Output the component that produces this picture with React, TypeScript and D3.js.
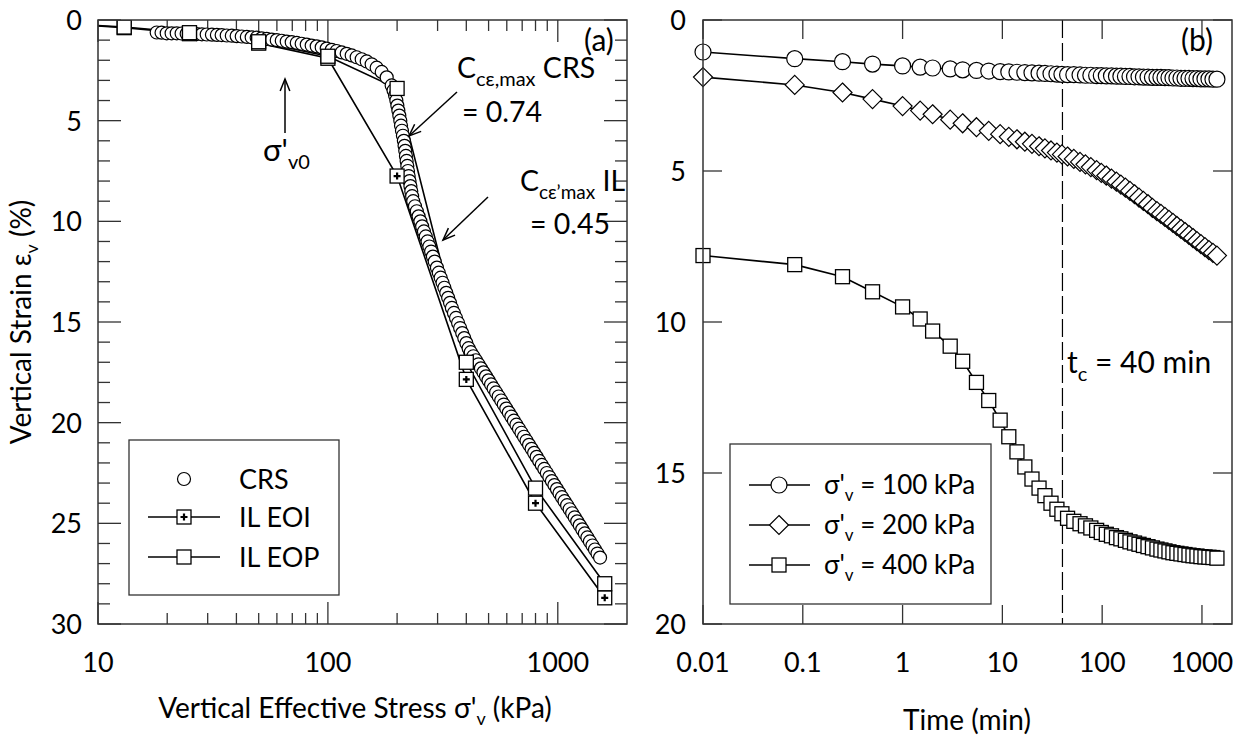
import React from 'react';
import * as d3 from 'd3';

// ---------- Panel (a) data ----------
const crsStress = [
  18, 18.9, 19.9, 20.9, 22.0, 23.1, 24.3, 25.6, 26.9, 28.3, 29.7, 31.3, 32.9, 34.5, 36.3, 38.2, 40.1, 42.2, 44.4, 46.6,
  49.0, 51.5, 54.2, 57.0, 59.9, 63.0, 66.2, 69.6, 73.2, 76.9, 80.9, 85.0, 89.4, 94.0, 98.8, 103.9, 109.2, 114.8, 120.7, 126.9,
  133.4, 140.3, 147.5, 155.0, 163.0, 171.4, 180.2, 189.4,
  193, 196, 198.5, 200.5, 202.5, 204.5, 206.5, 208, 210, 212, 214, 215.5, 217, 218.5, 220, 221.5, 223, 224.5, 226.5, 228.5, 230.5, 232.5, 235,
  239.2, 243.6, 248, 252.5, 257, 261.7, 266.5, 271.3, 276.2, 281.2, 286.3, 291.5, 298, 303.6, 309.4, 315.3, 321.2, 327.3, 333.5, 339.8,
  346.2, 353.4, 360.8, 368.4, 376, 383.9, 391.9, 400.4, 409.3,
  418.3, 429.1, 440.1, 451.4, 463.0, 475.0, 487.1, 499.6, 512.5, 525.6, 539.1, 553.1, 567.4, 582.0, 596.9, 612.3, 628.1, 644.3, 660.8, 677.8,
  695.0, 712.9, 731.1, 749.9, 769.3, 789.0, 809.3, 830.1, 851.6, 873.5, 895.9, 918.9, 942.6, 966.7, 991.5, 1017, 1043, 1070, 1098, 1126,
  1155, 1185, 1215, 1246, 1278, 1311, 1345, 1379, 1415, 1451, 1488, 1527,
];
const crsStrain = [
  0.62, 0.63, 0.66, 0.66, 0.66, 0.67, 0.68, 0.69, 0.70, 0.71, 0.72, 0.73, 0.74, 0.75, 0.77, 0.78, 0.80, 0.82, 0.84, 0.86,
  0.88, 0.91, 0.94, 0.97, 1.0, 1.03, 1.07, 1.10, 1.14, 1.18, 1.22, 1.27, 1.31, 1.36, 1.42, 1.48, 1.54, 1.61, 1.68, 1.76,
  1.85, 1.95, 2.06, 2.2, 2.37, 2.58, 2.85, 3.25,
  3.5, 3.75, 4.0, 4.25, 4.5, 4.75, 5.0, 5.25, 5.5, 5.75, 6.0, 6.25, 6.5, 6.75, 7.0, 7.25, 7.5, 7.75, 8.0, 8.25, 8.5, 8.75, 9.0,
  9.25, 9.5, 9.75, 10.0, 10.25, 10.5, 10.75, 11.0, 11.25, 11.5, 11.75, 12.0, 12.3, 12.55, 12.8, 13.05, 13.3, 13.55, 13.8, 14.05,
  14.3, 14.55, 14.8, 15.05, 15.3, 15.55, 15.8, 16.05, 16.3,
  16.5, 16.7, 16.9, 17.1, 17.3, 17.5, 17.7, 17.9, 18.1, 18.3, 18.5, 18.7, 18.9, 19.1, 19.3, 19.5, 19.7, 19.9, 20.1, 20.3,
  20.5, 20.7, 20.9, 21.1, 21.3, 21.5, 21.7, 21.9, 22.1, 22.3, 22.5, 22.7, 22.9, 23.1, 23.3, 23.5, 23.7, 23.9, 24.1, 24.3,
  24.5, 24.7, 24.9, 25.1, 25.3, 25.5, 25.7, 25.9, 26.1, 26.3, 26.5, 26.7,
];
const ilStress = [6.25, 13, 25, 50, 100, 200, 400, 800, 1600];
const eoiStrain = [0.15, 0.38, 0.68, 1.15, 1.9, 7.75, 17.85, 24.0, 28.7];
const eopStrain = [0.15, 0.35, 0.63, 1.08, 1.8, 3.4, 17.0, 23.25, 28.0];

const leftXMajor = [10, 100, 1000];
const leftYMajor = [0, 5, 10, 15, 20, 25, 30];

// ---------- Panel (b) data ----------
const times = [
  0.01, 0.083, 0.25, 0.5, 1, 1.5, 2, 3, 4, 5.5, 7.3, 9.5, 11.6, 14, 16.8, 19.8, 23.3, 26.7, 30.7, 35.2, 39.5,
  45, 52, 60, 68, 77, 88, 98, 110, 124, 139, 154, 171, 190, 211, 234, 259, 288, 319, 354, 388, 426, 467, 512,
  561, 616, 676, 741, 813, 891, 977, 1072, 1175, 1288, 1413,
];
const strain100 = [
  1.06, 1.28, 1.38, 1.46, 1.52, 1.56, 1.59, 1.62, 1.65, 1.67, 1.69, 1.71, 1.72, 1.73, 1.74, 1.75, 1.76, 1.77, 1.78, 1.79, 1.80,
  1.81, 1.81, 1.82, 1.83, 1.83, 1.84, 1.84, 1.85, 1.85, 1.86, 1.86, 1.87, 1.87, 1.88, 1.88, 1.89, 1.89, 1.90, 1.90, 1.90, 1.91, 1.91, 1.92,
  1.92, 1.93, 1.93, 1.93, 1.94, 1.94, 1.95, 1.95, 1.95, 1.96, 1.96,
];
const strain200 = [
  1.89, 2.15, 2.4, 2.62, 2.85, 3.0, 3.12, 3.3, 3.42, 3.55, 3.67, 3.78, 3.87, 3.95, 4.03, 4.1, 4.18, 4.25, 4.32, 4.39, 4.45,
  4.52, 4.6, 4.7, 4.78, 4.87, 4.97, 5.06, 5.15, 5.25, 5.35, 5.45, 5.55, 5.66, 5.77, 5.88, 5.99, 6.1, 6.22, 6.33, 6.42, 6.52, 6.62, 6.72,
  6.82, 6.92, 7.02, 7.12, 7.22, 7.32, 7.42, 7.52, 7.62, 7.71, 7.8,
];
const strain400 = [
  7.8, 8.1, 8.5, 9.0, 9.5, 9.9, 10.3, 10.8, 11.3, 12.0, 12.6, 13.25, 13.8, 14.3, 14.8, 15.2, 15.5, 15.75, 16.0, 16.2, 16.35,
  16.5, 16.6, 16.68, 16.75, 16.82, 16.9, 16.97, 17.03, 17.08, 17.14, 17.18, 17.23, 17.28, 17.32, 17.36, 17.4, 17.44, 17.48, 17.52,
  17.55, 17.58, 17.61, 17.64, 17.66, 17.68, 17.7, 17.72, 17.74, 17.75, 17.77, 17.78, 17.79, 17.8, 17.82,
];
const rightXMajor = [0.01, 0.1, 1, 10, 100, 1000];
const rightXLabels = ['0.01', '0.1', '1', '10', '100', '1000'];
const rightYMajor = [0, 5, 10, 15, 20];
const tcMinutes = 40;

const FONT = "Lato, 'Open Sans', sans-serif";
const FS = 27;
const FT = 28;
const FA = 28.5;
const SUB = 18;
const SUBA = 20;
const INK = '#000';
const AX = '#333';

const xL = d3.scaleLog().domain([10, 2000]).range([98, 627]);
const yL = d3.scaleLinear().domain([0, 30]).range([20, 624]);
const xR = d3.scaleLog().domain([0.01, 2000]).range([703, 1232]);
const yR = d3.scaleLinear().domain([0, 20]).range([20, 624]);

function Square({ x, y, s = 14, plus = false }: { x: number; y: number; s?: number; plus?: boolean }) {
  return (
    <g>
      <rect x={x - s / 2} y={y - s / 2} width={s} height={s} fill="#fff" stroke={INK} strokeWidth={1.3} />
      {plus && (
        <path d={`M${x - 3.5},${y}H${x + 3.5}M${x},${y - 3.5}V${y + 3.5}`} stroke={INK} strokeWidth={2.2} />
      )}
    </g>
  );
}
function Circle({ x, y, r }: { x: number; y: number; r: number }) {
  return <circle cx={x} cy={y} r={r} fill="#fff" stroke={INK} strokeWidth={1.2} />;
}
function Diamond({ x, y, r = 9.5 }: { x: number; y: number; r?: number }) {
  return <path d={`M${x},${y - r}L${x + r},${y}L${x},${y + r}L${x - r},${y}Z`} fill="#fff" stroke={INK} strokeWidth={1.2} />;
}
function Arrow({ x1, y1, x2, y2 }: { x1: number; y1: number; x2: number; y2: number }) {
  const a = Math.atan2(y2 - y1, x2 - x1);
  const L = 13, w = 0.38;
  const p1 = [x2 - L * Math.cos(a - w), y2 - L * Math.sin(a - w)];
  const p2 = [x2 - L * Math.cos(a + w), y2 - L * Math.sin(a + w)];
  return (
    <g stroke={INK} strokeWidth={1.5} fill="none">
      <line x1={x1} y1={y1} x2={x2} y2={y2} />
      <polyline points={`${p1[0]},${p1[1]} ${x2},${y2} ${p2[0]},${p2[1]}`} />
    </g>
  );
}

function LeftPanel() {
  const minorX: number[] = [];
  [10, 100, 1000].forEach((d) => {
    for (let k = 2; k <= 9; k++) if (d * k < 2000) minorX.push(d * k);
  });
  const minorY = d3.range(0, 31).filter((v) => v % 5 !== 0);
  const line = d3.line<number>().x((_, i) => xL(ilStress[i])).y((v) => yL(v));
  const [x0, x1] = xL.range();
  const [y0, y1] = yL.range();
  return (
    <g>
      <defs>
        <clipPath id="clipL">
          <rect x={x0} y={y0} width={x1 - x0} height={y1 - y0} />
        </clipPath>
      </defs>
      <g stroke={AX} strokeWidth={1.3}>
        {leftXMajor.map((v) => (
          <g key={'xm' + v}>
            <line x1={xL(v)} x2={xL(v)} y1={y1} y2={y1 - 22} />
            <line x1={xL(v)} x2={xL(v)} y1={y0} y2={y0 + 22} />
          </g>
        ))}
        {minorX.map((v) => (
          <g key={'xn' + v}>
            <line x1={xL(v)} x2={xL(v)} y1={y1} y2={y1 - 11} />
            <line x1={xL(v)} x2={xL(v)} y1={y0} y2={y0 + 11} />
          </g>
        ))}
        {leftYMajor.map((v) => (
          <g key={'ym' + v}>
            <line x1={x0} x2={x0 + 23} y1={yL(v)} y2={yL(v)} />
            <line x1={x1} x2={x1 - 23} y1={yL(v)} y2={yL(v)} />
          </g>
        ))}
        {minorY.map((v) => (
          <g key={'yn' + v}>
            <line x1={x0} x2={x0 + 12} y1={yL(v)} y2={yL(v)} />
            <line x1={x1} x2={x1 - 12} y1={yL(v)} y2={yL(v)} />
          </g>
        ))}
      </g>
      <g fontFamily={FONT} fontSize={FS} fill={INK}>
        {leftXMajor.map((v) => (
          <text key={'xl' + v} x={xL(v)} y={672} textAnchor="middle">{v}</text>
        ))}
        {leftYMajor.map((v) => (
          <text key={'yl' + v} x={82} y={yL(v) + 10} textAnchor="end">{v}</text>
        ))}
      </g>
      <g clipPath="url(#clipL)">
        <path d={line(eoiStrain) || ''} fill="none" stroke={INK} strokeWidth={1.6} />
        <path d={line(eopStrain) || ''} fill="none" stroke={INK} strokeWidth={1.6} />
        {crsStress.map((s, i) => (
          <Circle key={'c' + i} x={xL(s)} y={yL(crsStrain[i])} r={6.5} />
        ))}
        {ilStress.map((s, i) => (
          <Square key={'eoi' + i} x={xL(s)} y={yL(eoiStrain[i])} plus />
        ))}
        {ilStress.map((s, i) => (
          <Square key={'eop' + i} x={xL(s)} y={yL(eopStrain[i])} />
        ))}
      </g>
      <rect x={x0} y={y0} width={x1 - x0} height={y1 - y0} fill="none" stroke={AX} strokeWidth={1.5} />
      <g fontFamily={FONT} fontSize={FA} fill={INK}>
        <text x={584} y={51} fontSize={30}>(a)</text>
        <text x={457} y={78}>
          C<tspan dy={8} fontSize={SUBA}>cε,max</tspan>
          <tspan dy={-8}> CRS</tspan>
        </text>
        <text x={462} y={122}>= 0.74</text>
        <text x={520} y={191}>
          C<tspan dy={8} fontSize={19}>cε’max</tspan>
          <tspan dy={-8}> IL</tspan>
        </text>
        <text x={530} y={234}>= 0.45</text>
        <text x={263} y={161} fontSize={31}>
          σ'<tspan dy={8} fontSize={SUBA}>v0</tspan>
        </text>
      </g>
      <Arrow x1={457} y1={92} x2={409} y2={136} />
      <Arrow x1={488} y1={197} x2={443} y2={240} />
      <Arrow x1={285} y1={133} x2={285} y2={79} />
      <g>
        <rect x={129} y={440} width={210} height={155} fill="#fff" stroke={AX} strokeWidth={1.3} />
        <Circle x={184} y={479} r={6.5} />
        <line x1={148} x2={220} y1={517} y2={517} stroke={INK} strokeWidth={1.6} />
        <Square x={184} y={517} plus />
        <line x1={148} x2={220} y1={557} y2={557} stroke={INK} strokeWidth={1.6} />
        <Square x={184} y={557} />
        <g fontFamily={FONT} fontSize={FS} fill={INK}>
          <text x={239} y={489}>CRS</text>
          <text x={239} y={527}>IL EOI</text>
          <text x={239} y={567}>IL EOP</text>
        </g>
      </g>
      <g fontFamily={FONT} fontSize={FT} fill={INK}>
        <text x={355} y={718} textAnchor="middle">
          Vertical Effective Stress σ'<tspan dy={7} fontSize={SUB}>v</tspan>
          <tspan dy={-7}> (kPa)</tspan>
        </text>
        <text transform="translate(31,322) rotate(-90)" textAnchor="middle">
          Vertical Strain ε<tspan dy={7} fontSize={SUB}>v</tspan>
          <tspan dy={-7}> (%)</tspan>
        </text>
      </g>
    </g>
  );
}

function RightPanel() {
  const [x0, x1] = xR.range();
  const [y0, y1] = yR.range();
  const mk = (arr: number[]) => d3.line<number>().x((_, i) => xR(times[i])).y((v) => yR(v))(arr) || '';
  return (
    <g>
      <g stroke={AX} strokeWidth={1.3}>
        {rightXMajor.map((v) => (
          <g key={'rx' + v}>
            <line x1={xR(v)} x2={xR(v)} y1={y1} y2={y1 - 19} />
            <line x1={xR(v)} x2={xR(v)} y1={y0} y2={y0 + 19} />
          </g>
        ))}
        {rightYMajor.map((v) => (
          <g key={'ry' + v}>
            <line x1={x0} x2={x0 + 19} y1={yR(v)} y2={yR(v)} />
            <line x1={x1} x2={x1 - 19} y1={yR(v)} y2={yR(v)} />
          </g>
        ))}
      </g>
      <line x1={xR(tcMinutes)} x2={xR(tcMinutes)} y1={y0} y2={y1} stroke={INK} strokeWidth={1.2} strokeDasharray="18,5" />
      <g fontFamily={FONT} fontSize={FS} fill={INK}>
        {rightXMajor.map((v, i) => (
          <text key={'rxl' + v} x={xR(v)} y={672} textAnchor="middle">{rightXLabels[i]}</text>
        ))}
        {rightYMajor.map((v) => (
          <text key={'ryl' + v} x={686} y={yR(v) + 10} textAnchor="end">{v}</text>
        ))}
      </g>
      <path d={mk(strain100)} fill="none" stroke={INK} strokeWidth={1.6} />
      <path d={mk(strain200)} fill="none" stroke={INK} strokeWidth={1.6} />
      <path d={mk(strain400)} fill="none" stroke={INK} strokeWidth={1.6} />
      {times.map((t, i) => <Circle key={'a' + i} x={xR(t)} y={yR(strain100[i])} r={8} />)}
      {times.map((t, i) => <Diamond key={'b' + i} x={xR(t)} y={yR(strain200[i])} />)}
      {times.map((t, i) => <Square key={'s' + i} x={xR(t)} y={yR(strain400[i])} />)}
      <rect x={x0} y={y0} width={x1 - x0} height={y1 - y0} fill="none" stroke={AX} strokeWidth={1.5} />
      <g fontFamily={FONT} fontSize={30} fill={INK}>
        <text x={1181} y={51}>(b)</text>
        <text x={1067} y={373}>
          t<tspan dy={8} fontSize={SUBA}>c</tspan>
          <tspan dy={-8}> = 40 min</tspan>
        </text>
      </g>
      <rect x={730} y={444} width={261} height={160} fill="#fff" stroke={AX} strokeWidth={1.3} />
      {[485, 525, 565].map((yy, i) => (
        <g key={'lg' + i}>
          <line x1={749} x2={810} y1={yy} y2={yy} stroke={INK} strokeWidth={1.6} />
          {i === 0 && <Circle x={779} y={yy} r={8} />}
          {i === 1 && <Diamond x={779} y={yy} />}
          {i === 2 && <Square x={779} y={yy} />}
          <text x={824} y={yy + 9} fontFamily={FONT} fontSize={26} fill={INK}>
            σ'<tspan dy={7} fontSize={17}>v</tspan>
            <tspan dy={-7}> = {['100', '200', '400'][i]} kPa</tspan>
          </text>
        </g>
      ))}
      <text x={967} y={730} textAnchor="middle" fontFamily={FONT} fontSize={FT} fill={INK}>Time (min)</text>
    </g>
  );
}

export default function App() {
  return (
    <svg width={1242} height={740} style={{ position: 'absolute', left: 0, top: 0, background: '#fff' }}>
      <rect width={1242} height={740} fill="#fff" />
      <LeftPanel />
      <RightPanel />
    </svg>
  );
}
